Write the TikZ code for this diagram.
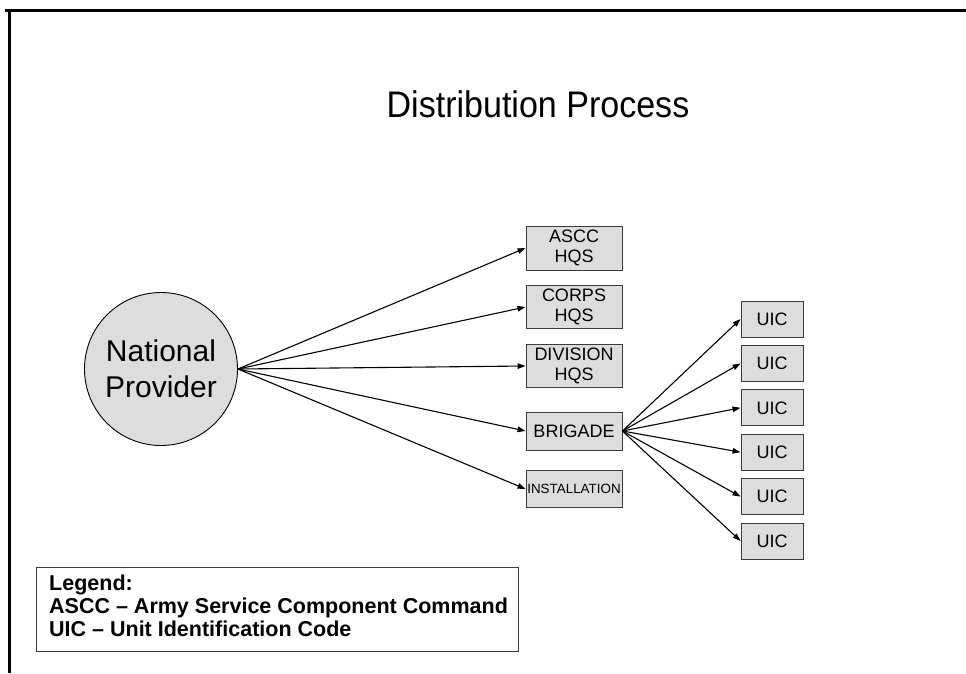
\documentclass[tikz,border=0pt]{standalone}
\usepackage{fontspec}
\setmainfont{Liberation Sans}
\newfontfamily\titlefont[FakeStretch=0.92]{Liberation Sans}
\usetikzlibrary{arrows.meta}
\definecolor{boxfill}{RGB}{221,221,221}
\definecolor{boxline}{RGB}{60,60,60}
\tikzset{
  unitbox/.style={draw=boxline, fill=boxfill, line width=0.9pt, minimum width=96pt,
    inner sep=0pt, align=center, font=\fontsize{18}{20}\selectfont},
  uicbox/.style={unitbox, minimum width=62pt, minimum height=36pt},
  feed/.style={-{Triangle[length=8pt,width=5.5pt]}, line width=1.1pt},
  frameline/.style={line width=3pt},
}
\begin{document}
\begin{tikzpicture}[x=1pt,y=-1pt]
\path[use as bounding box] (0,0) rectangle (966,673);

% slide frame (top and left rules)
\draw[frameline] (5,10.5) -- (966,10.5);
\draw[frameline] (9,9) -- (9,673);

% title
\node[anchor=base, inner sep=0pt, font=\titlefont\fontsize{37}{43}\selectfont] (title) at (538,117) {Distribution Process};

% source
\node[circle, draw=black, line width=0.9pt, fill=boxfill, minimum size=153pt, inner sep=0pt,
      align=center, font=\fontsize{30}{36}\selectfont] (np) at (161,369) {National\\Provider};

% first tier
\node[unitbox, minimum height=44pt] (ascc) at (574,248) {ASCC\\HQS};
\node[unitbox, minimum height=43pt] (corps) at (574,307) {CORPS\\HQS};
\node[unitbox, minimum height=43pt] (div) at (574,366) {DIVISION\\HQS};
\node[unitbox, minimum height=38pt] (brig) at (574,431) {BRIGADE};
\node[unitbox, minimum height=37pt, font=\fontsize{13.4}{15}\selectfont] (inst) at (574,489) {INSTALLATION};

% units under the brigade
\foreach \k in {0,...,5}{
  \node[uicbox] (u\k) at (772,{319+44.4*\k}) {UIC};
}

% connectors
\foreach \t in {ascc,corps,div,brig,inst}{
  \draw[feed] (np.east) -- (\t.west);
}
\foreach \k in {0,...,5}{
  \draw[feed] (brig.east) -- (u\k.west);
}

% legend
\node[draw=boxline, line width=0.9pt, minimum width=482pt, minimum height=84pt,
      inner sep=0pt, anchor=north west] (legend) at (36,567) {};
\node[anchor=north west, inner sep=0pt, align=left,
      font=\bfseries\fontsize{21.5}{23}\selectfont] (legendtext) at (49,575)
  {Legend:\\ASCC – Army Service Component Command\\UIC – Unit Identification Code};
\end{tikzpicture}
\end{document}
